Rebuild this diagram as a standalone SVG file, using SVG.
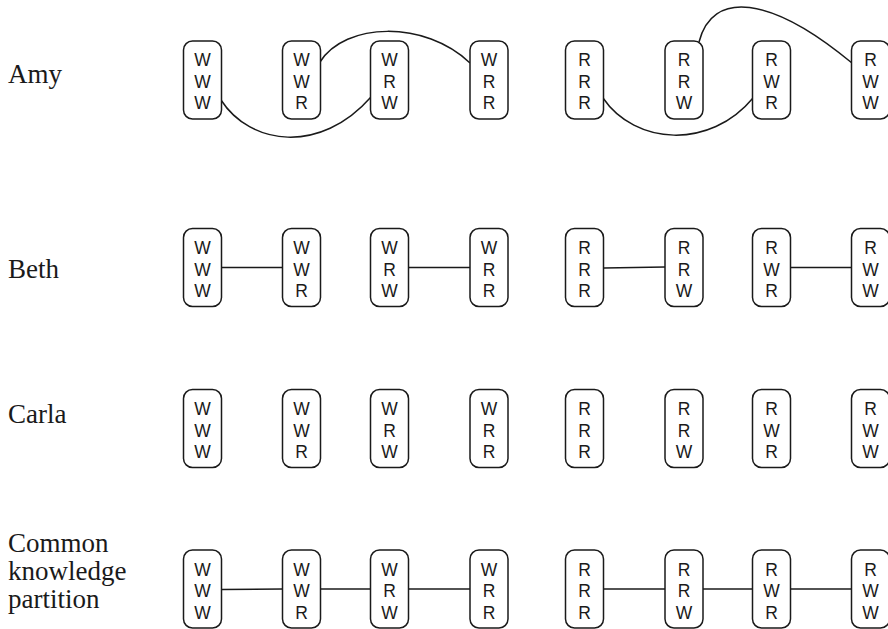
<svg xmlns="http://www.w3.org/2000/svg" width="888" height="629" viewBox="0 0 888 629">
<style>
.box{fill:#fff;stroke:#1a1a1a;stroke-width:1.5}
.st{font-family:"Liberation Sans",Arial,sans-serif;font-size:17.5px;fill:#1a1a1a;text-anchor:middle}
.lbl{font-family:"Liberation Serif","Times New Roman",serif;font-size:27px;fill:#1a1a1a}
.edge{fill:none;stroke:#1a1a1a;stroke-width:1.5}
</style>
<rect width="888" height="629" fill="#fff"/>
<g id="labels">
<text class="lbl" x="8" y="83">Amy</text>
<text class="lbl" x="8" y="278">Beth</text>
<text class="lbl" x="8" y="423">Carla</text>
<text class="lbl" x="8" y="552">Common</text>
<text class="lbl" x="8" y="580">knowledge</text>
<text class="lbl" x="8" y="608">partition</text>
</g>
<g id="connectors">
<path class="edge" d="M221,100 C250,145 320,155 371,97"/>
<path class="edge" d="M320,62 C345,22 425,20 470,63"/>
<path class="edge" d="M603,98 C635,145 710,150 753,98"/>
<path class="edge" d="M699,42 C712,-10 770,-5 852,63"/>
<line class="edge" x1="222" y1="267.5" x2="283" y2="267.5"/>
<line class="edge" x1="409" y1="267.5" x2="470" y2="267.5"/>
<line class="edge" x1="604" y1="268" x2="665" y2="267"/>
<line class="edge" x1="791" y1="267.5" x2="852" y2="267.5"/>
<line class="edge" x1="222" y1="589.5" x2="283" y2="589"/>
<line class="edge" x1="321" y1="589" x2="371" y2="589"/>
<line class="edge" x1="409" y1="589" x2="470" y2="589"/>
<line class="edge" x1="604" y1="589" x2="665" y2="589"/>
<line class="edge" x1="703" y1="589" x2="753" y2="589"/>
<line class="edge" x1="791" y1="589" x2="852" y2="589"/>
</g>
<!-- Amy row, top 41 -->
<g id="amy-WWW"><rect class="box" x="183.5" y="41" width="38" height="78" rx="9"/><text class="st" x="202.5" y="66">W</text><text class="st" x="202.5" y="87.5">W</text><text class="st" x="202.5" y="109">W</text></g>
<g id="amy-WWR"><rect class="box" x="282.5" y="41" width="38" height="78" rx="9"/><text class="st" x="301.5" y="66">W</text><text class="st" x="301.5" y="87.5">W</text><text class="st" x="301.5" y="109">R</text></g>
<g id="amy-WRW"><rect class="box" x="370.5" y="41" width="38" height="78" rx="9"/><text class="st" x="389.5" y="66">W</text><text class="st" x="389.5" y="87.5">R</text><text class="st" x="389.5" y="109">W</text></g>
<g id="amy-WRR"><rect class="box" x="470" y="41" width="38" height="78" rx="9"/><text class="st" x="489" y="66">W</text><text class="st" x="489" y="87.5">R</text><text class="st" x="489" y="109">R</text></g>
<g id="amy-RRR"><rect class="box" x="565.5" y="41" width="38" height="78" rx="9"/><text class="st" x="584.5" y="66">R</text><text class="st" x="584.5" y="87.5">R</text><text class="st" x="584.5" y="109">R</text></g>
<g id="amy-RRW"><rect class="box" x="665" y="41" width="38" height="78" rx="9"/><text class="st" x="684" y="66">R</text><text class="st" x="684" y="87.5">R</text><text class="st" x="684" y="109">W</text></g>
<g id="amy-RWR"><rect class="box" x="752.5" y="41" width="38" height="78" rx="9"/><text class="st" x="771.5" y="66">R</text><text class="st" x="771.5" y="87.5">W</text><text class="st" x="771.5" y="109">R</text></g>
<g id="amy-RWW"><rect class="box" x="851.5" y="41" width="38" height="78" rx="9"/><text class="st" x="870.5" y="66">R</text><text class="st" x="870.5" y="87.5">W</text><text class="st" x="870.5" y="109">W</text></g>
<!-- Beth row, top 228 -->
<g id="beth-WWW"><rect class="box" x="183.5" y="228.5" width="38" height="78" rx="9"/><text class="st" x="202.5" y="254">W</text><text class="st" x="202.5" y="275.5">W</text><text class="st" x="202.5" y="297">W</text></g>
<g id="beth-WWR"><rect class="box" x="282.5" y="228.5" width="38" height="78" rx="9"/><text class="st" x="301.5" y="254">W</text><text class="st" x="301.5" y="275.5">W</text><text class="st" x="301.5" y="297">R</text></g>
<g id="beth-WRW"><rect class="box" x="370.5" y="228.5" width="38" height="78" rx="9"/><text class="st" x="389.5" y="254">W</text><text class="st" x="389.5" y="275.5">R</text><text class="st" x="389.5" y="297">W</text></g>
<g id="beth-WRR"><rect class="box" x="470" y="228.5" width="38" height="78" rx="9"/><text class="st" x="489" y="254">W</text><text class="st" x="489" y="275.5">R</text><text class="st" x="489" y="297">R</text></g>
<g id="beth-RRR"><rect class="box" x="565.5" y="228.5" width="38" height="78" rx="9"/><text class="st" x="584.5" y="254">R</text><text class="st" x="584.5" y="275.5">R</text><text class="st" x="584.5" y="297">R</text></g>
<g id="beth-RRW"><rect class="box" x="665" y="228.5" width="38" height="78" rx="9"/><text class="st" x="684" y="254">R</text><text class="st" x="684" y="275.5">R</text><text class="st" x="684" y="297">W</text></g>
<g id="beth-RWR"><rect class="box" x="752.5" y="228.5" width="38" height="78" rx="9"/><text class="st" x="771.5" y="254">R</text><text class="st" x="771.5" y="275.5">W</text><text class="st" x="771.5" y="297">R</text></g>
<g id="beth-RWW"><rect class="box" x="851.5" y="228.5" width="38" height="78" rx="9"/><text class="st" x="870.5" y="254">R</text><text class="st" x="870.5" y="275.5">W</text><text class="st" x="870.5" y="297">W</text></g>
<!-- Carla row, top 389.5 -->
<g id="carla-WWW"><rect class="box" x="183.5" y="389.5" width="38" height="78" rx="9"/><text class="st" x="202.5" y="415">W</text><text class="st" x="202.5" y="436.5">W</text><text class="st" x="202.5" y="458">W</text></g>
<g id="carla-WWR"><rect class="box" x="282.5" y="389.5" width="38" height="78" rx="9"/><text class="st" x="301.5" y="415">W</text><text class="st" x="301.5" y="436.5">W</text><text class="st" x="301.5" y="458">R</text></g>
<g id="carla-WRW"><rect class="box" x="370.5" y="389.5" width="38" height="78" rx="9"/><text class="st" x="389.5" y="415">W</text><text class="st" x="389.5" y="436.5">R</text><text class="st" x="389.5" y="458">W</text></g>
<g id="carla-WRR"><rect class="box" x="470" y="389.5" width="38" height="78" rx="9"/><text class="st" x="489" y="415">W</text><text class="st" x="489" y="436.5">R</text><text class="st" x="489" y="458">R</text></g>
<g id="carla-RRR"><rect class="box" x="565.5" y="389.5" width="38" height="78" rx="9"/><text class="st" x="584.5" y="415">R</text><text class="st" x="584.5" y="436.5">R</text><text class="st" x="584.5" y="458">R</text></g>
<g id="carla-RRW"><rect class="box" x="665" y="389.5" width="38" height="78" rx="9"/><text class="st" x="684" y="415">R</text><text class="st" x="684" y="436.5">R</text><text class="st" x="684" y="458">W</text></g>
<g id="carla-RWR"><rect class="box" x="752.5" y="389.5" width="38" height="78" rx="9"/><text class="st" x="771.5" y="415">R</text><text class="st" x="771.5" y="436.5">W</text><text class="st" x="771.5" y="458">R</text></g>
<g id="carla-RWW"><rect class="box" x="851.5" y="389.5" width="38" height="78" rx="9"/><text class="st" x="870.5" y="415">R</text><text class="st" x="870.5" y="436.5">W</text><text class="st" x="870.5" y="458">W</text></g>
<!-- Common knowledge row, top 550 -->
<g id="ck-WWW"><rect class="box" x="183.5" y="550" width="38" height="78" rx="9"/><text class="st" x="202.5" y="575.5">W</text><text class="st" x="202.5" y="597">W</text><text class="st" x="202.5" y="618.5">W</text></g>
<g id="ck-WWR"><rect class="box" x="282.5" y="550" width="38" height="78" rx="9"/><text class="st" x="301.5" y="575.5">W</text><text class="st" x="301.5" y="597">W</text><text class="st" x="301.5" y="618.5">R</text></g>
<g id="ck-WRW"><rect class="box" x="370.5" y="550" width="38" height="78" rx="9"/><text class="st" x="389.5" y="575.5">W</text><text class="st" x="389.5" y="597">R</text><text class="st" x="389.5" y="618.5">W</text></g>
<g id="ck-WRR"><rect class="box" x="470" y="550" width="38" height="78" rx="9"/><text class="st" x="489" y="575.5">W</text><text class="st" x="489" y="597">R</text><text class="st" x="489" y="618.5">R</text></g>
<g id="ck-RRR"><rect class="box" x="565.5" y="550" width="38" height="78" rx="9"/><text class="st" x="584.5" y="575.5">R</text><text class="st" x="584.5" y="597">R</text><text class="st" x="584.5" y="618.5">R</text></g>
<g id="ck-RRW"><rect class="box" x="665" y="550" width="38" height="78" rx="9"/><text class="st" x="684" y="575.5">R</text><text class="st" x="684" y="597">R</text><text class="st" x="684" y="618.5">W</text></g>
<g id="ck-RWR"><rect class="box" x="752.5" y="550" width="38" height="78" rx="9"/><text class="st" x="771.5" y="575.5">R</text><text class="st" x="771.5" y="597">W</text><text class="st" x="771.5" y="618.5">R</text></g>
<g id="ck-RWW"><rect class="box" x="851.5" y="550" width="38" height="78" rx="9"/><text class="st" x="870.5" y="575.5">R</text><text class="st" x="870.5" y="597">W</text><text class="st" x="870.5" y="618.5">W</text></g>
</svg>
